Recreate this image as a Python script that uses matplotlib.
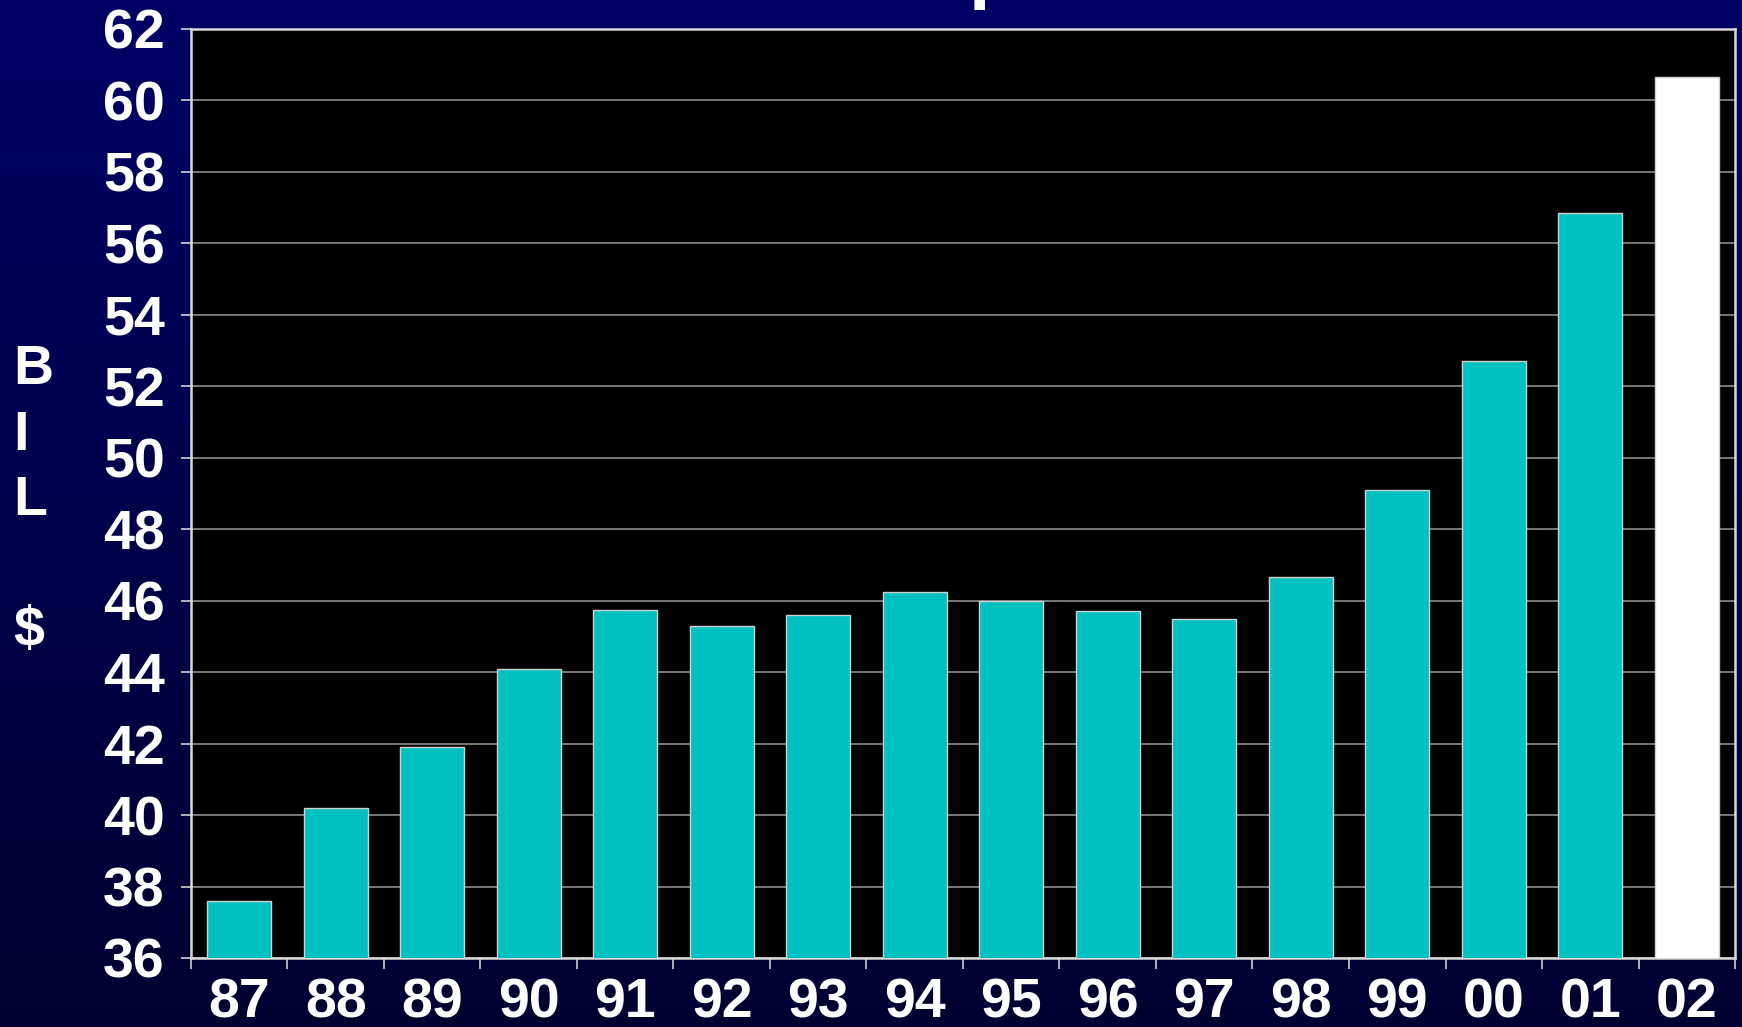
import numpy as np
import matplotlib.pyplot as plt

# data (billions of dollars)
years = ["87", "88", "89", "90", "91", "92", "93", "94",
         "95", "96", "97", "98", "99", "00", "01", "02"]
values = [37.6, 40.2, 41.9, 44.1, 45.75, 45.3, 45.6, 46.25,
          46.0, 45.7, 45.5, 46.65, 49.1, 52.7, 56.85, 60.65]
bar_colors = ["#00c0c0"] * 15 + ["#ffffff"]
y_ticks = list(range(36, 63, 2))

plt.rcParams['font.family'] = ['Liberation Sans', 'DejaVu Sans']
plt.rcParams['font.weight'] = 'bold'

fig = plt.figure(figsize=(17.42, 10.27), dpi=100)

# background gradient, navy at top fading darker at bottom
bg = fig.add_axes([0, 0, 1, 1], zorder=-10)
grad = np.linspace(0, 1, 256).reshape(-1, 1)
top = np.array([0, 0, 102]) / 255
bot = np.array([0, 0, 48]) / 255
img = top[None, None, :] * (1 - grad[:, :, None]) + bot[None, None, :] * grad[:, :, None]
bg.imshow(img, aspect='auto', extent=[0, 1, 0, 1])
bg.axis('off')

ax = fig.add_axes([0.1096, 0.0672, 0.996 - 0.1096, 0.9718 - 0.0672])
ax.set_facecolor('black')

x = np.arange(len(years))
ax.bar(x, values, width=0.66, color=bar_colors, edgecolor='#d0d0d0',
       linewidth=1, zorder=3)

ax.set_xlim(-0.5, len(years) - 0.5)
ax.set_ylim(36, 62)

# y axis
ax.set_yticks(y_ticks)
ax.set_yticklabels([str(v) for v in y_ticks])
ax.tick_params(axis='y', colors='#d0d0d0', length=7, width=1.2,
               labelsize=40, labelcolor='white', pad=12)
ax.grid(axis='y', color='#8c8c8c', linewidth=1.2, zorder=1)

# x axis: tick marks between categories, labels at centres
ax.set_xticks(np.arange(len(years) + 1) - 0.5)
ax.set_xticklabels([])
ax.tick_params(axis='x', which='major', colors='#d0d0d0', length=8,
               width=1.2, direction='out')
ax.set_xticks(x, minor=True)
ax.set_xticklabels(years, minor=True)
ax.tick_params(axis='x', which='minor', length=0, labelsize=40,
               labelcolor='white', pad=14)

for s in ax.spines.values():
    s.set_color('#d8d8d8')
    s.set_linewidth(1.8)

# vertical axis label
fig.text(0.0075, 0.512, "B\nI\nL\n\n$", color='white', fontsize=40,
         fontweight='bold', ha='left', va='center', linespacing=1.34)

# title sits above the frame, only a stroke of it shows
fig.text(0.5563, 1.006, "p", color='white', fontsize=56, fontweight='bold',
         ha='left', va='baseline')

fig.savefig("out.png", dpi=100)
